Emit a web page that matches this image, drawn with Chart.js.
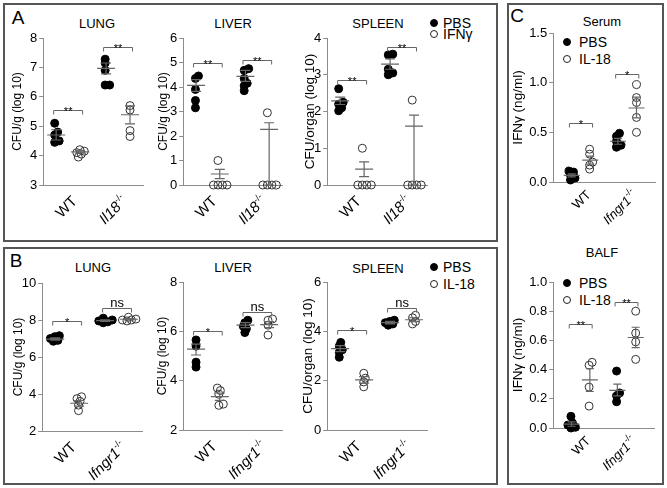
<!DOCTYPE html>
<html>
<head>
<meta charset="utf-8">
<script src="https://cdn.jsdelivr.net/npm/chart.js@4.4.1/dist/chart.umd.min.js"></script>
<style>
body { margin: 0; width: 667px; height: 488px; background: #fff; position: relative; overflow: hidden;
       font-family: "Liberation Sans", Arial, sans-serif; color: #000; }
.box { position: absolute; border: 2px solid #555; box-sizing: border-box; }
.t { position: absolute; white-space: nowrap; font-size: 13px; transform: translate(-50%, -50%); }
.letter { position: absolute; font-size: 19px; transform: translate(-50%, -50%); }
.lg { position: absolute; font-size: 14px; line-height: 14px; white-space: nowrap; }
.dot { display: inline-block; width: 8px; height: 8px; border-radius: 50%; box-sizing: border-box;
       border: 1px solid #222; margin-right: 5px; vertical-align: 1px; }
.dot.f { background: #000; border-color: #000; }
canvas { position: absolute; }
</style>
</head>
<body>
<div class="box" style="left:3px;top:3px;width:495px;height:239px"></div>
<div class="box" style="left:3px;top:247px;width:495px;height:238px"></div>
<div class="box" style="left:507px;top:3px;width:157px;height:482px"></div>

<div class="letter" style="left:18px;top:18px">A</div>
<div class="letter" style="left:16px;top:261px">B</div>
<div class="letter" style="left:517px;top:16px">C</div>

<div class="t" style="left:97px;top:23px">LUNG</div>
<div class="t" style="left:233px;top:23px">LIVER</div>
<div class="t" style="left:378px;top:23px">SPLEEN</div>
<div class="t" style="left:93px;top:267px">LUNG</div>
<div class="t" style="left:233px;top:267px">LIVER</div>
<div class="t" style="left:378px;top:268px">SPLEEN</div>
<div class="t" style="left:602px;top:21px">Serum</div>
<div class="t" style="left:602px;top:252px">BALF</div>

<div class="lg" style="left:430px;top:16px"><span class="dot f"></span>PBS</div>
<div class="lg" style="left:430px;top:27px"><span class="dot"></span>IFNγ</div>
<div class="lg" style="left:430px;top:260px"><span class="dot f"></span>PBS</div>
<div class="lg" style="left:430px;top:277px"><span class="dot"></span>IL-18</div>
<div class="lg" style="left:563px;top:35px"><span class="dot f" style="margin-right:8px"></span>PBS</div>
<div class="lg" style="left:563px;top:52px"><span class="dot" style="margin-right:8px"></span>IL-18</div>
<div class="lg" style="left:563px;top:276px"><span class="dot f" style="margin-right:8px"></span>PBS</div>
<div class="lg" style="left:563px;top:293px"><span class="dot" style="margin-right:8px"></span>IL-18</div>

<script>
// ---- data ----
// each pair: [WT, knockout]; summary arrays in order WT-PBS, WT-treated, KO-PBS, KO-treated
const aLungPBS = [[5.1, 4.8, 4.7, 4.5, 4.45], [7.28, 7.15, 6.9, 6.4, 6.4]];
const aLungIFN = [[4.2, 4.15, 4.1, 4.05, 3.95], [5.7, 5.55, 4.85, 4.65]];
const aLungMean = [4.7, 4.13, 6.97, 5.39];
const aLungLo = [4.53, 4.08, 6.78, 5.08];
const aLungHi = [4.88, 4.18, 7.15, 5.69];
const aLungSigY = [5.56, 7.7];
const aLungSig = ['**', '**'];

const aLiverPBS = [[4.45, 4.35, 3.9, 3.45, 3.15], [4.75, 4.68, 4.35, 4.15, 4.05, 3.85]];
const aLiverIFN = [[1.0, 0, 0, 0, 0], [2.95, 0, 0, 0, 0]];
const aLiverMean = [4.07, 0.45, 4.43, 2.27];
const aLiverLo = [3.82, 0.26, 4.23, 0];
const aLiverHi = [4.3, 0.64, 4.68, 2.54];
const aLiverSigY = [4.98, 5.12];
const aLiverSig = ['**', '**'];

const aSpleenPBS = [[2.62, 2.25, 2.2, 2.1, 2.02], [3.56, 3.54, 3.15, 3.05, 3.0]];
const aSpleenIFN = [[1.0, 0, 0, 0, 0], [2.31, 0, 0, 0, 0]];
const aSpleenMean = [2.29, 0.43, 3.29, 1.6];
const aSpleenLo = [2.19, 0.23, 3.15, 0];
const aSpleenHi = [2.39, 0.63, 3.43, 1.9];
const aSpleenSigY = [2.86, 3.76];
const aSpleenSig = ['**', '**'];

const bLungPBS = [[7.15, 7.1, 7.0, 6.9, 6.85], [8.1, 8.0, 7.95, 7.9, 7.85]];
const bLungIL = [[3.85, 3.75, 3.6, 3.4, 3.1], [8.15, 8.05, 8.0, 8.0, 7.95]];
const bLungMean = [6.97, 3.5, 7.97, 8.04];
const bLungLo = [6.91, 3.35, 7.93, 8.01];
const bLungHi = [7.03, 3.65, 8.01, 8.07];
const bLungSigY = [7.97, 8.65];
const bLungSig = ['*', 'ns'];

const bLiverPBS = [[5.65, 5.4, 4.75, 4.55], [6.45, 6.35, 6.2, 6.1, 5.95]];
const bLiverIL = [[3.7, 3.6, 3.45, 3.05, 3.0], [6.5, 6.45, 6.25, 5.85]];
const bLiverMean = [5.28, 3.35, 6.25, 6.27];
const bLiverLo = [5.04, 3.2, 6.15, 6.15];
const bLiverHi = [5.48, 3.5, 6.35, 6.39];
const bLiverSigY = [6.0, 6.8];
const bLiverSig = ['*', 'ns'];

const bSpleenPBS = [[3.55, 3.4, 3.25, 3.15, 2.95], [4.45, 4.4, 4.3, 4.25, 4.35]];
const bSpleenIL = [[2.3, 2.1, 1.95, 1.75], [4.65, 4.55, 4.4, 4.3]];
const bSpleenMean = [3.3, 2.03, 4.35, 4.47];
const bSpleenLo = [3.18, 1.9, 4.3, 4.39];
const bSpleenHi = [3.42, 2.16, 4.4, 4.55];
const bSpleenSigY = [4.07, 4.95];
const bSpleenSig = ['*', 'ns'];

const cSerumPBS = [[0.11, 0.1, 0.07, 0.04, 0.02], [0.49, 0.46, 0.41, 0.37, 0.35]];
const cSerumIL = [[0.33, 0.28, 0.2, 0.17, 0.13], [0.98, 0.85, 0.8, 0.65, 0.5]];
const cSerumMean = [0.067, 0.22, 0.41, 0.745];
const cSerumLo = [0.052, 0.18, 0.38, 0.645];
const cSerumHi = [0.082, 0.26, 0.44, 0.855];
const cSerumSigY = [0.59, 1.09];
const cSerumSig = ['*', '*'];

const cBalfPBS = [[0.08, 0.035, 0.02, 0.005, 0.0], [0.39, 0.24, 0.22, 0.18]];
const cBalfIL = [[0.45, 0.43, 0.28, 0.15], [0.8, 0.65, 0.59, 0.47]];
const cBalfMean = [0.027, 0.33, 0.258, 0.62];
const cBalfLo = [0.012, 0.25, 0.22, 0.55];
const cBalfHi = [0.042, 0.406, 0.3, 0.69];
const cBalfSigY = [0.715, 0.86];
const cBalfSig = ['**', '**'];

const groupsA = [{ main: 'WT' }, { main: 'Il18', sup: '-/-', italic: true }];
const groupsBC = [{ main: 'WT' }, { main: 'Ifngr1', sup: '-/-', italic: true }];

// ---- drawing ----
const FONT = '"Liberation Sans", Arial, sans-serif';
const AXIS = '#8c8c8c';
const BAR = '#666';
Chart.defaults.font.family = FONT;
Chart.defaults.color = '#000';
Chart.defaults.animation = false;

// little beeswarm: spread overlapping dots sideways
function swarm(vals, center, pxX, pxY) {
    const order = vals.map((v, i) => i).sort((a, b) => vals[a] - vals[b]);
    const placed = [];
    const dxs = [];
    order.forEach(i => {
        const y = vals[i] * pxY;
        for (let k = 0; k < 40; k++) {
            const dx = (k % 2 ? 1 : -1) * Math.ceil(k / 2) * 1.5;
            if (placed.every(p => Math.hypot(p.dx - dx, p.y - y) >= 3.8)) {
                placed.push({ dx, y });
                dxs[i] = dx;
                break;
            }
        }
    });
    const shift = dxs.reduce((a, b) => a + b, 0) / dxs.length;
    return vals.map((v, i) => ({ x: center + (dxs[i] - shift) / pxX, y: v }));
}

const decor = {
    id: 'decor',
    afterDatasetsDraw(chart, args, o) {
        const ctx = chart.ctx, xs = chart.scales.x, ys = chart.scales.y;
        ctx.save();
        ctx.strokeStyle = BAR;
        ctx.lineWidth = 1.2;
        o.pos.forEach((p, i) => {
            const x = xs.getPixelForValue(p);
            const m = ys.getPixelForValue(o.mean[i]);
            const lo = ys.getPixelForValue(o.lo[i]);
            const hi = ys.getPixelForValue(o.hi[i]);
            ctx.beginPath();
            ctx.moveTo(x - o.meanW, m); ctx.lineTo(x + o.meanW, m);
            ctx.moveTo(x, lo); ctx.lineTo(x, hi);
            ctx.moveTo(x - o.capW, hi); ctx.lineTo(x + o.capW, hi);
            ctx.moveTo(x - o.capW, lo); ctx.lineTo(x + o.capW, lo);
            ctx.stroke();
        });

        // significance brackets
        ctx.lineWidth = 1;
        o.sigY.forEach((v, g) => {
            const x1 = xs.getPixelForValue(o.pos[2 * g] - 0.05);
            const x2 = xs.getPixelForValue(o.pos[2 * g + 1] + 0.05);
            const y = Math.round(ys.getPixelForValue(v)) + 0.5;
            ctx.beginPath();
            ctx.moveTo(x1, y + 4); ctx.lineTo(x1, y); ctx.lineTo(x2, y); ctx.lineTo(x2, y + 4);
            ctx.stroke();
            ctx.fillStyle = '#000';
            ctx.textAlign = 'center';
            ctx.textBaseline = 'alphabetic';
            const txt = o.sig[g];
            ctx.font = (txt === 'ns' ? '13px ' : '11px ') + FONT;
            ctx.fillText(txt, (x1 + x2) / 2, txt === 'ns' ? y - 2 : y + 4);
        });

        // rotated group labels
        o.labels.forEach((lb, g) => {
            const x = xs.getPixelForValue(g + 1) + o.lblDx;
            const y = chart.chartArea.bottom + o.lblDy;
            ctx.save();
            ctx.translate(x, y);
            ctx.rotate(-Math.PI / 4);
            ctx.fillStyle = '#000';
            ctx.textBaseline = 'middle';
            ctx.textAlign = 'right';
            let ws = 0;
            if (lb.sup) {
                ctx.font = '9px ' + FONT;
                ws = ctx.measureText(lb.sup).width;
                ctx.fillText(lb.sup, 0, -5);
            }
            ctx.font = (lb.italic ? 'italic ' : '') + o.lblSize + 'px ' + FONT;
            ctx.fillText(lb.main, -ws, 0);
            ctx.restore();
        });
        ctx.restore();
    }
};

function makePanel(p) {
    const padT = 12, padR = 12, xH = 60;
    const yW = p.L - p.titleX + 11.2;
    const w = p.R - p.L + yW + padR;
    const h = p.B - p.T + padT + xH;
    const cv = document.createElement('canvas');
    cv.width = w; cv.height = h;
    cv.style.left = (p.L - yW) + 'px';
    cv.style.top = (p.T - padT) + 'px';
    cv.style.width = w + 'px';
    cv.style.height = h + 'px';
    document.body.appendChild(cv);

    const pxX = (p.R - p.L) / (p.xMax - p.xMin);
    const pxY = (p.B - p.T) / (p.yMax - p.yMin);
    const pos = [1 - p.off, 1 + p.off, 2 - p.off, 2 + p.off];

    const pbsPts = [...swarm(p.pbs[0], pos[0], pxX, pxY), ...swarm(p.pbs[1], pos[2], pxX, pxY)];
    const trtPts = [...swarm(p.trt[0], pos[1], pxX, pxY), ...swarm(p.trt[1], pos[3], pxX, pxY)];

    new Chart(cv, {
        type: 'scatter',
        data: {
            datasets: [
                { label: 'PBS', data: pbsPts, pointRadius: 4, backgroundColor: '#000',
                  borderColor: '#000', borderWidth: 1, clip: false },
                { label: p.trtName, data: trtPts, pointRadius: 4, backgroundColor: 'rgba(255,255,255,0)',
                  borderColor: '#333', borderWidth: 1, clip: false }
            ]
        },
        options: {
            responsive: false,
            layout: { padding: { top: padT, right: padR, left: 0, bottom: 0 } },
            plugins: {
                legend: { display: false },
                tooltip: { enabled: false },
                decor: {
                    pos, mean: p.mean, lo: p.lo, hi: p.hi, sigY: p.sigY, sig: p.sig,
                    labels: p.labels, meanW: p.meanW, capW: p.capW,
                    lblDx: p.lblDx, lblDy: p.lblDy, lblSize: p.lblSize
                }
            },
            scales: {
                x: {
                    type: 'linear', min: p.xMin, max: p.xMax,
                    ticks: { display: false },
                    grid: { display: false },
                    border: { color: AXIS, width: 1 },
                    afterFit: s => { s.height = xH; }
                },
                y: {
                    type: 'linear', min: p.yMin, max: p.yMax,
                    ticks: {
                        stepSize: p.step, padding: 2, font: { size: 13 },
                        callback: v => v.toFixed(p.dec)
                    },
                    grid: { drawOnChartArea: false, tickLength: 4, color: AXIS },
                    border: { color: AXIS, width: 1 },
                    title: { display: true, text: p.yTitle, font: { size: p.titleSize }, padding: { top: 4, bottom: 0 } },
                    afterFit: s => { s.width = yW; }
                }
            }
        },
        plugins: [decor]
    });
}

const abX = { xMin: 0.5, xMax: 2.5, off: 0.24, meanW: 9, capW: 5, lblDx: 7, lblDy: 14, lblSize: 15, titleSize: 12 };
const cX = { xMin: 0.4, xMax: 2.6, off: 0.2, meanW: 8, capW: 4, lblDx: 8, lblDy: 11, lblSize: 13, titleSize: 13.5 };

makePanel({ ...abX, L: 43, T: 38, R: 143, B: 185, titleX: 17, yMin: 3, yMax: 8, step: 1, dec: 0,
    yTitle: 'CFU/g (log 10)', trtName: 'IFNγ', labels: groupsA,
    pbs: aLungPBS, trt: aLungIFN, mean: aLungMean, lo: aLungLo, hi: aLungHi, sigY: aLungSigY, sig: aLungSig });
makePanel({ ...abX, L: 183, T: 38, R: 282, B: 185, titleX: 163, yMin: 0, yMax: 6, step: 1, dec: 0,
    yTitle: 'CFU/g (log 10)', trtName: 'IFNγ', labels: groupsA,
    pbs: aLiverPBS, trt: aLiverIFN, mean: aLiverMean, lo: aLiverLo, hi: aLiverHi, sigY: aLiverSigY, sig: aLiverSig });
makePanel({ ...abX, titleSize: 13.5, L: 327, T: 38, R: 427, B: 185, titleX: 309, yMin: 0, yMax: 4, step: 1, dec: 0,
    yTitle: 'CFU/organ (log 10)', trtName: 'IFNγ', labels: groupsA,
    pbs: aSpleenPBS, trt: aSpleenIFN, mean: aSpleenMean, lo: aSpleenLo, hi: aSpleenHi, sigY: aSpleenSigY, sig: aSpleenSig });

makePanel({ ...abX, L: 42, T: 283, R: 142, B: 431, titleX: 18, yMin: 2, yMax: 10, step: 2, dec: 0,
    yTitle: 'CFU/g (log 10)', trtName: 'IL-18', labels: groupsBC,
    pbs: bLungPBS, trt: bLungIL, mean: bLungMean, lo: bLungLo, hi: bLungHi, sigY: bLungSigY, sig: bLungSig });
makePanel({ ...abX, L: 183, T: 282, R: 282, B: 430, titleX: 162, yMin: 2, yMax: 8, step: 2, dec: 0,
    yTitle: 'CFU/g (log 10)', trtName: 'IL-18', labels: groupsBC,
    pbs: bLiverPBS, trt: bLiverIL, mean: bLiverMean, lo: bLiverLo, hi: bLiverHi, sigY: bLiverSigY, sig: bLiverSig });
makePanel({ ...abX, titleSize: 13.5, L: 327, T: 282, R: 427, B: 430, titleX: 307, yMin: 0, yMax: 6, step: 2, dec: 0,
    yTitle: 'CFU/organ (log 10)', trtName: 'IL-18', labels: groupsBC,
    pbs: bSpleenPBS, trt: bSpleenIL, mean: bSpleenMean, lo: bSpleenLo, hi: bSpleenHi, sigY: bSpleenSigY, sig: bSpleenSig });

makePanel({ ...cX, L: 553, T: 33, R: 655, B: 182, titleX: 517, yMin: 0, yMax: 1.5, step: 0.5, dec: 1,
    yTitle: 'IFNγ (ng/ml)', trtName: 'IL-18', labels: groupsBC,
    pbs: cSerumPBS, trt: cSerumIL, mean: cSerumMean, lo: cSerumLo, hi: cSerumHi, sigY: cSerumSigY, sig: cSerumSig });
makePanel({ ...cX, L: 553, T: 282, R: 654, B: 428, titleX: 517, yMin: 0, yMax: 1, step: 0.2, dec: 1,
    yTitle: 'IFNγ (ng/ml)', trtName: 'IL-18', labels: groupsBC,
    pbs: cBalfPBS, trt: cBalfIL, mean: cBalfMean, lo: cBalfLo, hi: cBalfHi, sigY: cBalfSigY, sig: cBalfSig });
</script>
</body>
</html>
